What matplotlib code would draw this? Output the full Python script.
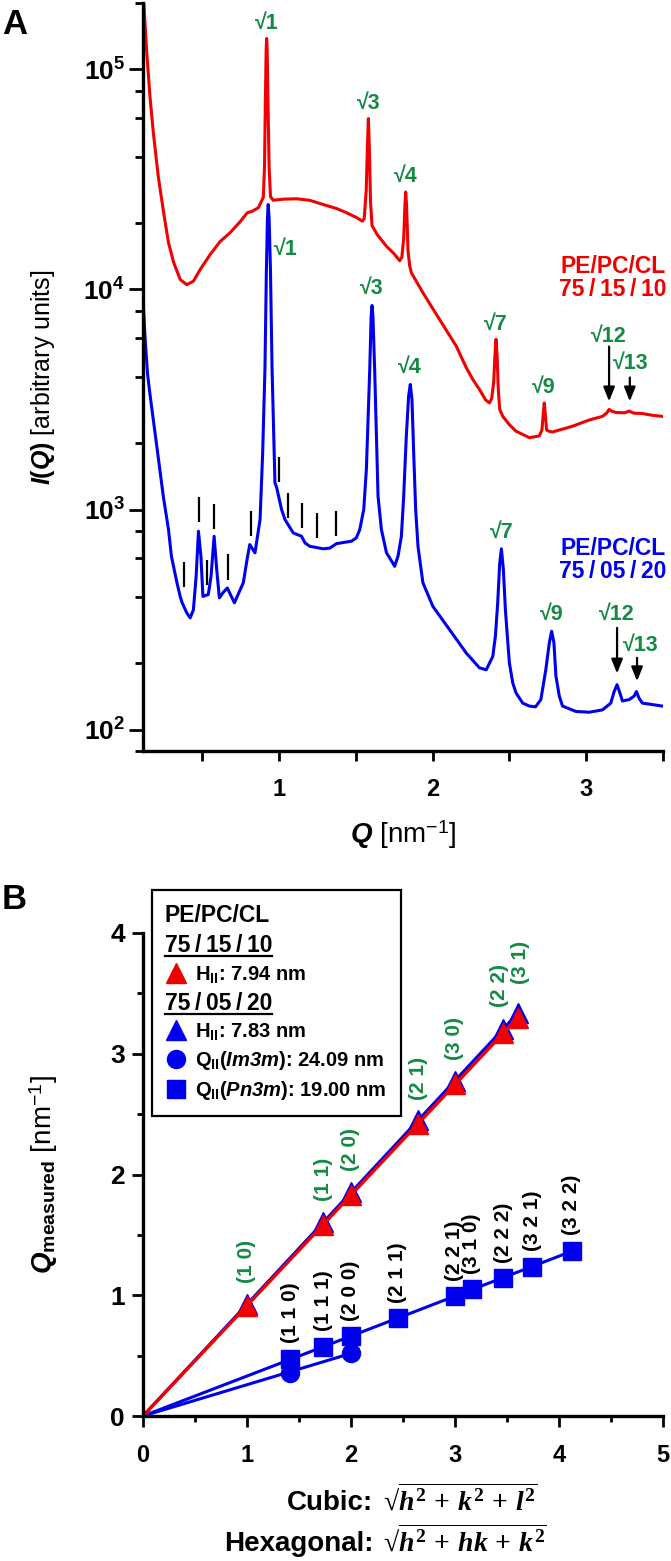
import numpy as np
import matplotlib
matplotlib.use("Agg")
import matplotlib.pyplot as plt
from matplotlib.lines import Line2D
from matplotlib.ticker import FixedLocator, LogLocator, MultipleLocator, NullFormatter

OUT_FILE = "out.png"

RED = "#f00000"
BLUE = "#0000ee"
GREEN = "#148a44"

# ---------------- panel A: SAXS curves ----------------
red_q = [0.115, 0.138, 0.16, 0.182, 0.214, 0.249, 0.281, 0.314, 0.357, 0.40,
         0.443, 0.487, 0.552, 0.617, 0.682, 0.747, 0.794, 0.823, 0.866, 0.898,
         0.906, 0.912, 0.917, 0.92, 0.923, 0.928, 0.936, 0.945, 0.963, 1.028,
         1.115, 1.20, 1.288, 1.375, 1.44, 1.505, 1.543, 1.555, 1.568, 1.576,
         1.582, 1.588, 1.596, 1.606, 1.638, 1.70, 1.75, 1.786, 1.80, 1.812,
         1.82, 1.825, 1.831, 1.84, 1.851, 1.862, 1.937, 2.045, 2.154, 2.22,
         2.262, 2.305, 2.345, 2.37, 2.385, 2.398, 2.406, 2.413, 2.42, 2.428,
         2.437, 2.457, 2.50, 2.543, 2.63, 2.695, 2.712, 2.72, 2.727, 2.734,
         2.742, 2.756, 2.78, 2.911, 3.019, 3.106, 3.135, 3.149, 3.165, 3.193,
         3.25, 3.28, 3.31, 3.366, 3.43, 3.495]
red_i = [2.3e5, 1.23e5, 7.57e4, 5.18e4, 3.27e4, 2.24e4, 1.63e4, 1.33e4, 1.11e4, 1.05e4,
         1.09e4, 1.23e4, 1.44e4, 1.65e4, 1.81e4, 2.03e4, 2.23e4, 2.26e4, 2.35e4, 2.62e4,
         3.6e4, 7.5e4, 1.25e5, 1.38e5, 1.25e5, 7.5e4, 3.6e4, 2.64e4, 2.54e4, 2.57e4,
         2.58e4, 2.54e4, 2.43e4, 2.33e4, 2.23e4, 2.12e4, 2.04e4, 2.1e4, 2.8e4, 4.5e4,
         5.97e4, 4.5e4, 2.5e4, 1.95e4, 1.78e4, 1.57e4, 1.45e4, 1.35e4, 1.4e4, 1.7e4,
         2.4e4, 2.77e4, 2.4e4, 1.5e4, 1.28e4, 1.19e4, 9.66e3, 7.31e3, 5.53e3, 4.4e3,
         3.9e3, 3.51e3, 3.15e3, 3.05e3, 3.2e3, 3.8e3, 5.0e3, 5.93e3, 5.0e3, 3.5e3,
         2.85e3, 2.65e3, 2.43e3, 2.27e3, 2.12e3, 2.16e3, 2.3e3, 2.7e3, 3.05e3, 2.7e3,
         2.3e3, 2.27e3, 2.25e3, 2.39e3, 2.55e3, 2.65e3, 2.75e3, 2.85e3, 2.8e3, 2.76e3,
         2.75e3, 2.8e3, 2.74e3, 2.73e3, 2.68e3, 2.65e3]

blue_q = [0.117, 0.13, 0.145, 0.162, 0.182, 0.216, 0.247, 0.281, 0.30, 0.336,
          0.357, 0.37, 0.40, 0.422, 0.443, 0.461, 0.476, 0.492, 0.505, 0.54,
          0.558, 0.578, 0.595, 0.612, 0.638, 0.664, 0.71, 0.768, 0.794, 0.81,
          0.844, 0.877, 0.894, 0.909, 0.918, 0.925, 0.93, 0.936, 0.945, 0.955,
          0.974, 0.985, 1.017, 1.039, 1.093, 1.147, 1.169, 1.20, 1.288, 1.331,
          1.375, 1.472, 1.504, 1.526, 1.552, 1.569, 1.591, 1.60, 1.606, 1.612,
          1.623, 1.645, 1.667, 1.70, 1.742, 1.753, 1.775, 1.797, 1.812, 1.829,
          1.844, 1.855, 1.866, 1.877, 1.89, 1.905, 1.937, 2.002, 2.11, 2.219,
          2.305, 2.349, 2.392, 2.409, 2.424, 2.437, 2.448, 2.461, 2.474, 2.49,
          2.50, 2.522, 2.543, 2.587, 2.63, 2.67, 2.705, 2.737, 2.76, 2.775,
          2.79, 2.803, 2.825, 2.846, 2.933, 3.02, 3.106, 3.16, 3.182, 3.201,
          3.219, 3.236, 3.28, 3.312, 3.327, 3.344, 3.366, 3.431, 3.495]
blue_i = [8.5e3, 5.8e3, 4.1e3, 3.27e3, 2.56e3, 1.69e3, 1.15e3, 811, 614, 465,
          403, 377, 339, 322, 350, 498, 797, 614, 403, 411,
          498, 756, 533, 397, 421, 440, 377, 465, 602, 693,
          636, 901, 1.81e3, 4.4e3, 1.2e4, 2.1e4, 2.43e4, 2.1e4, 1.2e4, 4.4e3,
          1.32e3, 1.26e3, 1000, 901, 783, 756, 706, 681, 663, 668,
          700, 718, 744, 811, 1000, 1.52e3, 4.33e3, 7.5e3, 8.45e3, 7.5e3,
          4.33e3, 1.15e3, 811, 636, 570, 552, 614, 756, 1.15e3, 2.15e3,
          3.27e3, 3.7e3, 3.16e3, 1.81e3, 1000, 681, 465, 363, 285, 223,
          191, 187, 215, 266, 377, 570, 663, 533, 351, 248,
          201, 163, 147, 132, 128, 127, 137, 187, 248, 280,
          248, 175, 142, 128, 121, 120, 123, 132, 149, 160,
          147, 135, 137, 142, 149, 139, 132, 130, 128]

# black reflection bars above the 75/05/20 curve (lower end of each bar)
bar_q = [0.385, 0.479, 0.531, 0.58, 0.667, 0.82, 1.0, 1.06, 1.147, 1.245, 1.373]
bar_i = [443, 875, 452, 817, 481, 756, 1330, 917, 826, 743, 756]
BAR_RATIO = 1.3

peak_text = ["√1", "√3", "√4", "√7", "√9", "√12", "√13"]
red_label_q = [0.92, 1.582, 1.825, 2.413, 2.727, 3.149, 3.284]
red_label_i = [1.38e5, 5.97e4, 2.77e4, 5.93e3, 3.05e3, 5.5e3, 3.98e3]
blue_label_q = [0.93, 1.606, 1.855, 2.448, 2.775, 3.201, 3.331]
blue_label_i = [2.43e4, 8.45e3, 3.7e3, 663, 280, 290, 212]
RED_LABEL_OFFSET = [(0, 7), (0, 7), (0, 7), (0, 7), (0, 7), (0, 3), (1, 6)]
BLUE_LABEL_OFFSET = [(13, -36), (0, 8), (0, 8), (0, 8), (0, 8), (0, 6), (3, 5)]

red_arrow_q = [3.149, 3.284]
red_arrow_top = [5.5e3, 3.98e3]
red_arrow_tip = [3.1e3, 3.1e3]
blue_arrow_q = [3.201, 3.331]
blue_arrow_top = [290, 212]
blue_arrow_tip = [180, 166]

# ---------------- panel B: measured peak positions ----------------
hex_hk = ["10", "11", "20", "21", "30", "22", "31"]
hex_n = [1, 3, 4, 7, 9, 12, 13]          # h^2 + hk + k^2
red_hex_q = [0.915, 1.58, 1.83, 2.42, 2.75, 3.17, 3.30]
blue_hex_q = [0.93, 1.605, 1.855, 2.448, 2.778, 3.205, 3.335]
HEX_LABEL_OFFSET = [(0, 15), (0, 15), (0, 15), (0, 15), (0, 15), (-3, 16), (2, 21)]

pn3m_hkl = ["110", "111", "200", "211", "221", "310", "222", "321", "322"]
pn3m_n = [2, 3, 4, 6, 9, 10, 12, 14, 17]  # h^2 + k^2 + l^2
pn3m_q = [0.475, 0.575, 0.663, 0.809, 0.99, 1.049, 1.14, 1.236, 1.369]

im3m_n = [2, 4]
im3m_q = [0.357, 0.525]

legend_labels = [
    "PE/PC/CL",
    "75\u2009/\u200915\u2009/\u200910",
    r"H$_{\mathbf{II}}$: 7.94 nm",
    "75\u2009/\u200905\u2009/\u200920",
    r"H$_{\mathbf{II}}$: 7.83 nm",
    r"Q$_{\mathbf{II}}$($\mathsf{Im3m}$): 24.09 nm",
    r"Q$_{\mathbf{II}}$($\mathsf{Pn3m}$): 19.00 nm",
]


def miller(idx):
    return "(" + " ".join(idx) + ")"


def origin_fit(x, y):
    x = np.asarray(x, dtype=float)
    y = np.asarray(y, dtype=float)
    slope = np.sum(x * y) / np.sum(x * x)
    xx = np.array([0.0, x.max()])
    return xx, slope * xx


def style_axes(ax):
    for side in ("top", "right"):
        ax.spines[side].set_visible(False)
    for side in ("left", "bottom"):
        ax.spines[side].set_linewidth(2.4)
    ax.tick_params(which="both", direction="out", width=2.0)


def draw_panel_a(ax):
    ax.plot(red_q, red_i, color=RED, lw=2.2)
    ax.plot(blue_q, blue_i, color=BLUE, lw=2.2)
    ax.set_yscale("log")
    ax.set_xlim(0.115, 3.5)
    ax.set_ylim(80, 2.0e5)

    ax.vlines(bar_q, bar_i, np.array(bar_i) * BAR_RATIO, color="black", lw=1.6)

    for txt, q, i, off in zip(peak_text, red_label_q, red_label_i, RED_LABEL_OFFSET):
        ax.annotate(txt, (q, i), xytext=off, textcoords="offset points",
                    ha="center", va="baseline", color=GREEN, fontsize=15.5,
                    fontweight="bold")
    for txt, q, i, off in zip(peak_text, blue_label_q, blue_label_i, BLUE_LABEL_OFFSET):
        ax.annotate(txt, (q, i), xytext=off, textcoords="offset points",
                    ha="center", va="baseline", color=GREEN, fontsize=15.5,
                    fontweight="bold")

    arrow = dict(arrowstyle="-|>,head_length=0.85,head_width=0.34", color="black",
                 lw=1.6, shrinkA=0, shrinkB=0, mutation_scale=10)
    for q, top, tip in zip(red_arrow_q + blue_arrow_q, red_arrow_top + blue_arrow_top,
                           red_arrow_tip + blue_arrow_tip):
        ax.annotate("", xy=(q, tip), xytext=(q, top), arrowprops=arrow)

    ax.text(1.006, 0.632, "PE/PC/CL\n75\u2009/\u200915\u2009/\u200910", transform=ax.transAxes,
            ha="right", va="center", multialignment="right", color=RED,
            fontsize=16.5, fontweight="bold", linespacing=1.0)
    ax.text(1.006, 0.255, "PE/PC/CL\n75\u2009/\u200905\u2009/\u200920", transform=ax.transAxes,
            ha="right", va="center", multialignment="right", color=BLUE,
            fontsize=16.5, fontweight="bold", linespacing=1.0)

    style_axes(ax)
    ax.xaxis.set_major_locator(FixedLocator([1, 2, 3]))
    ax.xaxis.set_minor_locator(FixedLocator([0.5, 1.5, 2.5, 3.5]))
    ax.xaxis.set_minor_formatter(NullFormatter())
    ax.yaxis.set_major_locator(LogLocator(base=10))
    ax.yaxis.set_minor_locator(LogLocator(base=10, subs=(2, 4, 6, 8)))
    ax.yaxis.set_minor_formatter(NullFormatter())
    ax.tick_params(axis="x", which="both", length=7.5, labelsize=17, pad=12)
    ax.tick_params(axis="y", which="major", length=10, labelsize=19, pad=3)
    ax.tick_params(axis="y", which="minor", length=5.5)

    ax.set_xlabel(r"$\mathsf{Q}$ [nm$^{\mathregular{-1}}$]", fontsize=20, fontweight="normal")
    ax.xaxis.set_label_coords(0.5, -0.09)
    ax.set_ylabel(r"$\mathsf{I}\mathbf{(}\mathsf{Q}\mathbf{)}$ [arbitrary units]",
                  fontsize=18, fontweight="normal")
    ax.yaxis.set_label_coords(-0.165, 0.5)


def draw_panel_b(ax):
    hex_x = np.sqrt(hex_n)
    pn3m_x = np.sqrt(pn3m_n)
    im3m_x = np.sqrt(im3m_n)

    for x, y in ((im3m_x, im3m_q), (pn3m_x, pn3m_q), (hex_x, blue_hex_q)):
        fx, fy = origin_fit(x, y)
        ax.plot(fx, fy, color=BLUE, lw=2.2)
    ax.plot(im3m_x, im3m_q, ls="none", marker="o", ms=13, color=BLUE)
    ax.plot(pn3m_x, pn3m_q, ls="none", marker="s", ms=12.5, color=BLUE)
    ax.plot(hex_x, blue_hex_q, ls="none", marker="^", ms=15, color=BLUE)

    fx, fy = origin_fit(hex_x, red_hex_q)
    ax.plot(fx, fy, color=RED, lw=2.4)
    ax.plot(hex_x, red_hex_q, ls="none", marker="^", ms=15, color=RED)

    for idx, x, y, off in zip(hex_hk, hex_x, blue_hex_q, HEX_LABEL_OFFSET):
        ax.annotate(miller(idx), (x, y), xytext=off, textcoords="offset points", rotation=90,
                    ha="center", va="bottom", color=GREEN, fontsize=15,
                    fontweight="bold")
    for idx, x, y in zip(pn3m_hkl, pn3m_x, pn3m_q):
        ax.annotate(miller(idx), (x, y), xytext=(0, 11), textcoords="offset points", rotation=90,
                    ha="center", va="bottom", color="black", fontsize=15,
                    fontweight="bold")

    ax.set_xlim(0, 5)
    ax.set_ylim(0, 4)
    style_axes(ax)
    ax.xaxis.set_major_locator(MultipleLocator(1))
    ax.xaxis.set_minor_locator(MultipleLocator(0.5))
    ax.yaxis.set_major_locator(MultipleLocator(1))
    ax.yaxis.set_minor_locator(MultipleLocator(0.5))
    ax.tick_params(which="major", length=8)
    ax.tick_params(which="minor", length=4.5)
    ax.tick_params(axis="x", labelsize=17, pad=12)
    ax.tick_params(axis="y", labelsize=19, pad=5)

    ax.set_ylabel(r"$\mathsf{Q}_{\mathbf{measured}}$ [nm$^{\mathregular{-1}}$]",
                  fontsize=20, fontweight="normal")
    ax.yaxis.set_label_coords(-0.16, 0.5)

    ax.text(0.443, -0.195, "Cubic:", transform=ax.transAxes, ha="right", va="baseline",
            fontsize=20, fontweight="bold")
    ax.text(0.4615, -0.195, "$\u221a\\overline{h^2\\,+\\,k^2\\,+\\,l^2}$", transform=ax.transAxes,
            ha="left", va="baseline", fontsize=20)
    ax.text(0.443, -0.28, "Hexagonal:", transform=ax.transAxes, ha="right", va="baseline",
            fontsize=20, fontweight="bold")
    ax.text(0.4615, -0.28, "$\u221a\\overline{h^2\\,+\\,hk\\,+\\,k^2}$", transform=ax.transAxes,
            ha="left", va="baseline", fontsize=20)

    blank = Line2D([], [], ls="none")
    handles = [
        blank, blank,
        Line2D([], [], ls="none", marker="^", ms=15, color=RED),
        blank,
        Line2D([], [], ls="none", marker="^", ms=15, color=BLUE),
        Line2D([], [], ls="none", marker="o", ms=13, color=BLUE),
        Line2D([], [], ls="none", marker="s", ms=12.5, color=BLUE),
    ]
    leg = ax.legend(handles, legend_labels, loc="upper left", bbox_to_anchor=(0.0167, 1.089),
                    borderaxespad=0, fontsize=14.5, frameon=True, fancybox=False,
                    framealpha=1, edgecolor="black", borderpad=0.7, handlelength=1.0,
                    handletextpad=0.45, labelspacing=0.34)
    leg.get_frame().set_linewidth(1.6)
    for k in (0, 1, 3):
        leg.get_texts()[k].set_fontsize(16.5)
    return leg


def fix_legend(fig, leg):
    # headers sit flush left, with a rule under the two composition lines
    fig.canvas.draw()
    texts = leg.get_texts()
    frame = leg.get_frame().get_window_extent()
    shift = texts[2].get_window_extent().x0 - (frame.x0 + 13)
    for k in (0, 1, 3):
        texts[k].set_x(-shift)
    fig.canvas.draw()
    inv = fig.transFigure.inverted()
    for k in (1, 3):
        bb = texts[k].get_window_extent()
        (x0, y0), (x1, _) = inv.transform([[bb.x0, bb.y0 + 1], [bb.x1, bb.y0 + 1]])
        fig.add_artist(Line2D([x0, x1], [y0, y0], color="black", lw=1.6))


def main():
    plt.rcParams["font.family"] = ["Liberation Sans", "DejaVu Sans"]
    plt.rcParams["font.weight"] = "bold"
    plt.rcParams["mathtext.fontset"] = "custom"
    plt.rcParams["mathtext.rm"] = "Liberation Serif:bold"
    plt.rcParams["mathtext.it"] = "Liberation Serif:italic:bold"
    plt.rcParams["mathtext.bf"] = "Liberation Sans:bold"
    plt.rcParams["mathtext.sf"] = "Liberation Sans:italic:bold"

    fig = plt.figure(figsize=(6.71, 15.61), dpi=100)
    ax_a = fig.add_axes([143 / 671, 1 - 751 / 1561, 520 / 671, 748 / 1561])
    ax_b = fig.add_axes([143 / 671, 1 - 1416 / 1561, 520 / 671, 483 / 1561])

    draw_panel_a(ax_a)
    leg = draw_panel_b(ax_b)

    fig.text(0.003, 1 - 8 / 1561, "A", fontsize=25, fontweight="bold", va="top", ha="left")
    fig.text(0.003, 1 - 883 / 1561, "B", fontsize=25, fontweight="bold", va="top", ha="left")

    fix_legend(fig, leg)
    fig.savefig(OUT_FILE, dpi=100)
    plt.close(fig)


if __name__ == "__main__":
    main()
